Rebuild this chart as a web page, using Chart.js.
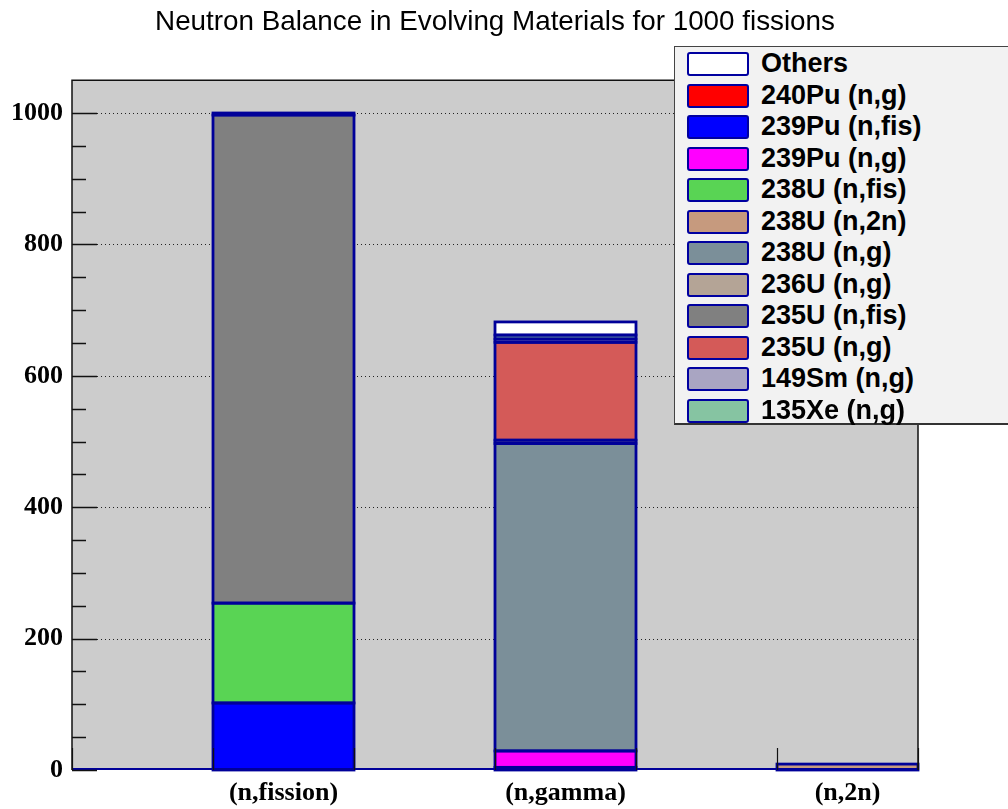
<!DOCTYPE html>
<html>
<head>
<meta charset="utf-8">
<script src="https://cdn.jsdelivr.net/npm/chart.js@4.4.1/dist/chart.umd.min.js"></script>
<style>
  html, body { margin: 0; padding: 0; background: #ffffff; overflow: hidden; }
  #wrap { position: relative; width: 1008px; height: 809px; }
  #c { position: absolute; left: 0; top: 0; }
  #legend {
    position: absolute; left: 674px; top: 46px; width: 345px; height: 379px;
    background: #f2f2f2; border-top: 1px solid #444; border-left: 1px solid #444;
    border-bottom: 2px solid #333; box-sizing: border-box;
  }
  .row { position: absolute; left: 0; height: 31.5px; width: 100%; }
  .sw { position: absolute; left: 12px; top: 4px; width: 62px; height: 24px; box-sizing: border-box;
        border: 2px solid #0000a0; border-radius: 3px; }
  .lb { position: absolute; left: 86px; top: 0; line-height: 31.5px; height: 31.5px;
        font-family: "Liberation Sans", Arial, sans-serif; font-weight: bold; font-size: 27px; color: #000; white-space: nowrap; }
</style>
</head>
<body>
<div id="wrap">
  <canvas id="c" width="1008" height="809"></canvas>
  <div id="legend"></div>
</div>
<script>
// ---------------- data ----------------
const title = "Neutron Balance in Evolving Materials for 1000 fissions";
const categories = ["(n,fission)", "(n,gamma)", "(n,2n)"];
const yTickValues = [0, 200, 400, 600, 800, 1000];

// stack order: bottom -> top ; values per category [fission, gamma, 2n]
const seriesNames = [
  "240Pu (n,g)", "239Pu (n,fis)", "239Pu (n,g)", "238U (n,fis)", "238U (n,2n)",
  "238U (n,g)", "236U (n,g)", "235U (n,fis)", "235U (n,g)", "149Sm (n,g)",
  "135Xe (n,g)", "Others"
];
const pu240_ng  = [0,   4,   0];
const pu239_fis = [102, 0,   0];
const pu239_ng  = [0,   25,  0];
const u238_fis  = [152, 0,   0];
const u238_n2n  = [0,   0,   9];
const u238_ng   = [0,   468, 0];
const u236_ng   = [0,   5,   0];
const u235_fis  = [743, 0,   0];
const u235_ng   = [0,   149, 0];
const sm149_ng  = [0,   5,   0];
const xe135_ng  = [0,   6,   0];
const others    = [3,   20,  0];
const seriesValues = [pu240_ng, pu239_fis, pu239_ng, u238_fis, u238_n2n, u238_ng,
                      u236_ng, u235_fis, u235_ng, sm149_ng, xe135_ng, others];
const seriesColors = ["#ff0000", "#0000ff", "#ff00ff", "#59d454", "#c69a7e", "#7b8f99",
                      "#b4a496", "#808080", "#d45a58", "#a9a5c2", "#86c4a2", "#ffffff"];
// legend order (top -> bottom)
const legendOrder = ["Others", "240Pu (n,g)", "239Pu (n,fis)", "239Pu (n,g)", "238U (n,fis)",
  "238U (n,2n)", "238U (n,g)", "236U (n,g)", "235U (n,fis)", "235U (n,g)", "149Sm (n,g)", "135Xe (n,g)"];

// --------------- build -----------------
// each category occupies two slots: an empty left half and the bar in the right half
const slotLabels = [];
categories.forEach(c => { slotLabels.push(""); slotLabels.push(c); });
function toSlots(vals) { const out = []; vals.forEach(v => { out.push(null); out.push(v); }); return out; }

const OUTLINE = "#000099";
const datasets = seriesNames.map((n, i) => ({
  label: n,
  data: toSlots(seriesValues[i]),
  backgroundColor: seriesColors[i],
  borderWidth: 0,
  barPercentage: 1.0,
  categoryPercentage: 1.0
}));

const framePlugin = {
  id: "frame",
  beforeDatasetsDraw(chart) {
    const {ctx, chartArea: a} = chart;
    const y = chart.scales.y;
    ctx.save();
    ctx.fillStyle = "#cccccc";
    ctx.fillRect(a.left, a.top, a.right - a.left, a.bottom - a.top);
    // dotted grid at labelled ticks
    ctx.strokeStyle = "#222";
    ctx.lineWidth = 1;
    ctx.setLineDash([1, 3]);
    y.ticks.forEach(t => {
      if (yTickValues.indexOf(t.value) < 0 || t.value === 0) return;
      const py = Math.round(y.getPixelForValue(t.value)) + 0.5;
      ctx.beginPath(); ctx.moveTo(a.left + 25, py); ctx.lineTo(a.right, py); ctx.stroke();
    });
    ctx.restore();
  },
  afterDatasetsDraw(chart) {
    const {ctx, chartArea: a} = chart;
    const x = chart.scales.x, y = chart.scales.y;
    ctx.save();
    // outlines of each stacked segment (ROOT-style)
    ctx.strokeStyle = OUTLINE;
    ctx.lineWidth = 2.8;
    chart.data.datasets.forEach((ds, di) => {
      const meta = chart.getDatasetMeta(di);
      meta.data.forEach((el, j) => {
        const v = ds.data[j];
        if (v === null || v === 0) return;
        const p = el.getProps(["x", "y", "base", "width"], true);
        if (!isFinite(p.y) || !isFinite(p.base)) return;
        const l = Math.round(p.x - p.width / 2), r = Math.round(p.x + p.width / 2);
        const t = p.y, b = p.base;
        ctx.strokeRect(l, t, r - l, b - t);
      });
    });
    // baseline (empty histograms drawn at zero)
    ctx.lineWidth = 2;
    ctx.beginPath(); ctx.moveTo(a.left, a.bottom - 1); ctx.lineTo(a.right, a.bottom - 1); ctx.stroke();
    // y ticks (inside)
    ctx.strokeStyle = "#111";
    ctx.lineWidth = 1.5;
    y.ticks.forEach(t => {
      if (t.value > 1000) return;
      const py = Math.round(y.getPixelForValue(t.value)) + 0.5;
      const len = yTickValues.indexOf(t.value) >= 0 ? 25 : 14;
      ctx.beginPath(); ctx.moveTo(a.left, py); ctx.lineTo(a.left + len, py); ctx.stroke();
    });
    // x ticks at slot boundaries
    const slotW = x.getPixelForValue(1) - x.getPixelForValue(0);
    ctx.lineWidth = 1.2;
    for (let i = 0; i <= slotLabels.length; i++) {
      const px = Math.round(x.getPixelForValue(0) - slotW / 2 + i * slotW) + 0.5;
      ctx.beginPath(); ctx.moveTo(px, a.bottom); ctx.lineTo(px, a.bottom - 22); ctx.stroke();
    }
    // frame
    ctx.strokeStyle = "#111";
    ctx.lineWidth = 1.5;
    ctx.beginPath();
    ctx.moveTo(a.left, a.bottom); ctx.lineTo(a.left, a.top); ctx.lineTo(a.right, a.top); ctx.lineTo(a.right, a.bottom);
    ctx.stroke();
    ctx.restore();
  }
};

new Chart(document.getElementById("c"), {
  type: "bar",
  data: { labels: slotLabels, datasets },
  options: {
    responsive: false,
    animation: false,
    layout: { padding: { left: 0, right: 90, top: 0, bottom: 0 } },
    plugins: {
      legend: { display: false },
      tooltip: { enabled: false },
      title: {
        display: true, text: title, fullSize: false, color: "#000",
        font: { family: "Liberation Sans", size: 27.8, weight: "normal", lineHeight: 1.2 },
        padding: { top: 5.5, bottom: 41.3 }
      }
    },
    scales: {
      x: {
        stacked: true, offset: true,
        grid: { display: false, drawTicks: false }, border: { display: false },
        ticks: { color: "#000", padding: 8, maxRotation: 0, autoSkip: false,
                 font: { family: "Liberation Serif", size: 26, weight: "bold", lineHeight: 1.2 } },
        afterFit(s) { s.height = 39; }
      },
      y: {
        stacked: true, min: 0, max: 1050,
        grid: { display: false, drawTicks: false }, border: { display: false },
        ticks: { stepSize: 50, autoSkip: false, color: "#000", padding: 9,
                 font: { family: "Liberation Serif", size: 26, weight: "bold" },
                 callback: v => (yTickValues.indexOf(v) >= 0 ? String(v) : "") },
        afterFit(s) { s.width = 72; }
      }
    }
  },
  plugins: [framePlugin]
});

// HTML legend built from the datasets
const lg = document.getElementById("legend");
legendOrder.forEach((name, i) => {
  const idx = seriesNames.indexOf(name);
  const row = document.createElement("div");
  row.className = "row";
  row.style.top = (1.3 + i * 31.5) + "px";
  const sw = document.createElement("div");
  sw.className = "sw";
  sw.style.background = seriesColors[idx];
  const lb = document.createElement("div");
  lb.className = "lb";
  lb.textContent = name;
  row.appendChild(sw); row.appendChild(lb);
  lg.appendChild(row);
});
</script>
</body>
</html>
